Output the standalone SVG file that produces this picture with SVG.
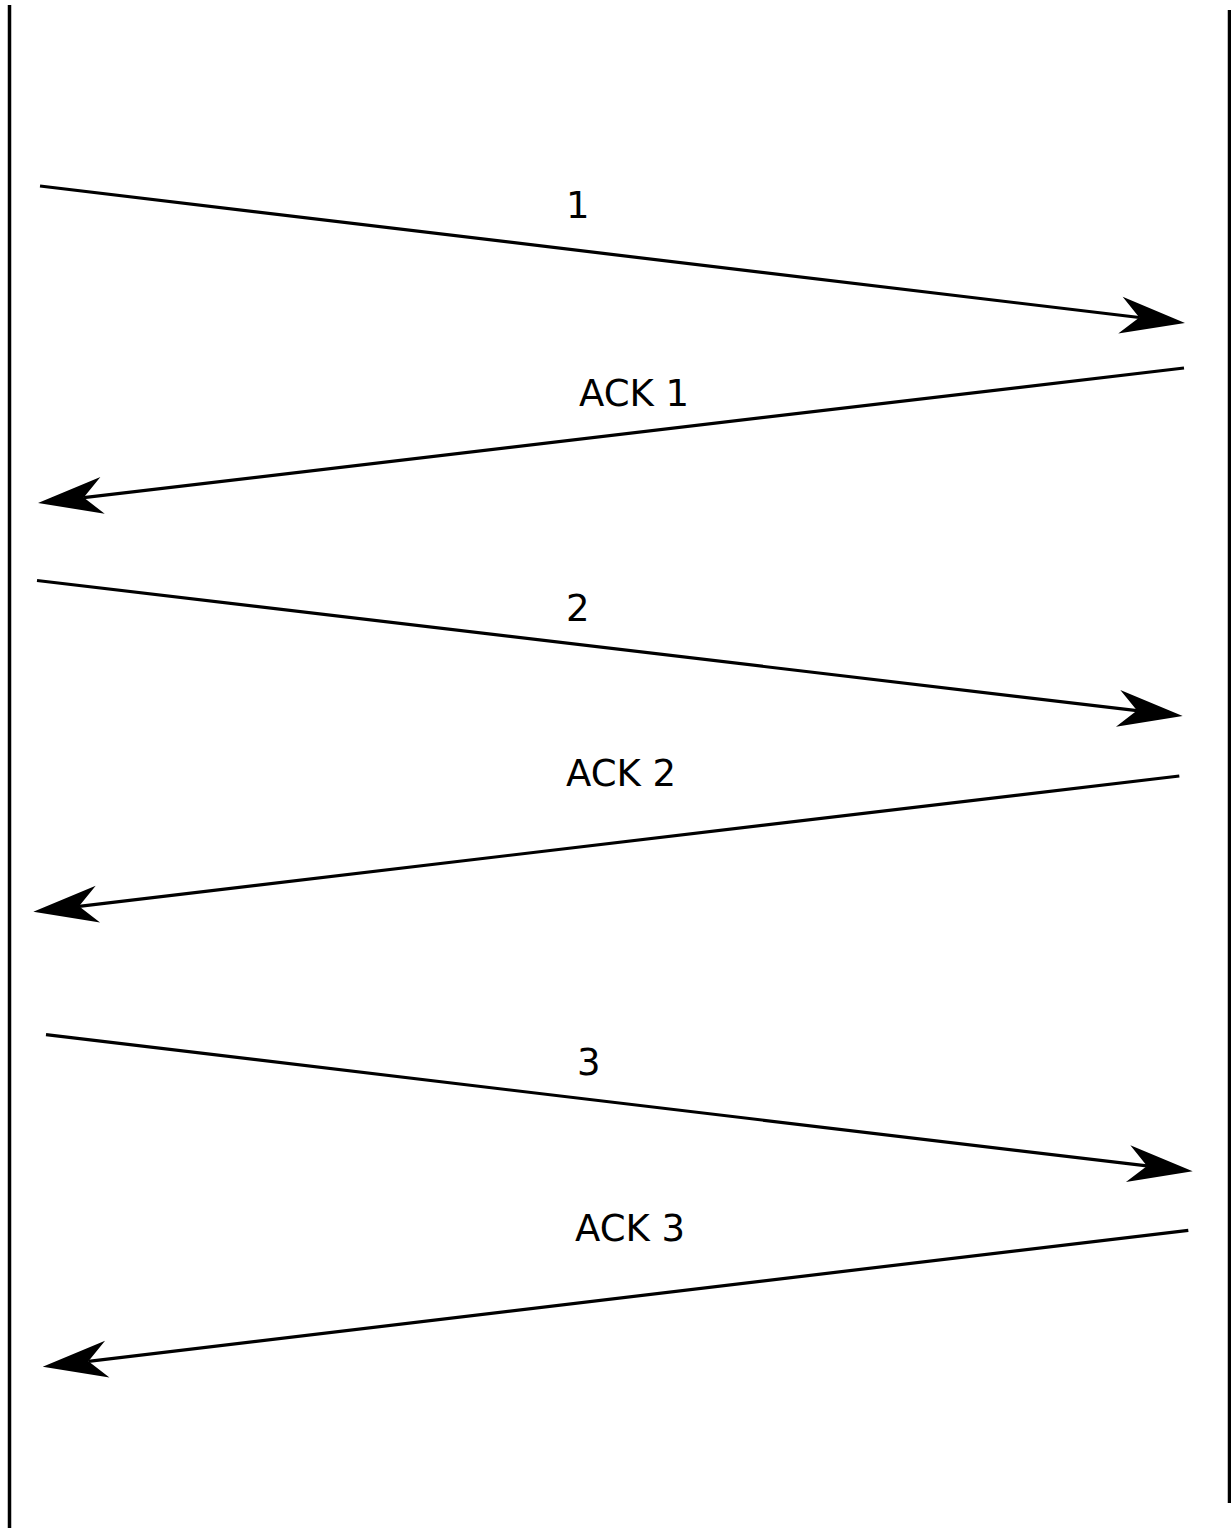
<svg xmlns="http://www.w3.org/2000/svg" width="1231" height="1528" viewBox="0 0 1231 1528">
<style>
.life{stroke:#000;stroke-width:3.5;fill:none}
.msg{stroke:#000;stroke-width:3.2;fill:none;marker-end:url(#head)}
.lbl{font-family:"DejaVu Sans",sans-serif;font-size:37px;fill:#000}
</style>
<defs>
<marker id="head" markerUnits="userSpaceOnUse" orient="auto" refX="0" refY="0" markerWidth="1" markerHeight="1" overflow="visible">
<path d="M46,0 L-19,-18.5 L0,0 L-19,18.5 Z" fill="#000"/>
</marker>
</defs>
<rect width="1231" height="1528" fill="#fff"/>
<g id="lifeline-left"><line class="life" x1="9.5" y1="5" x2="9.5" y2="1528"/></g>
<g id="lifeline-right"><line class="life" x1="1229.5" y1="10" x2="1229.5" y2="1503"/></g>
<g id="connectors">
<line class="msg" x1="40" y1="186" x2="1139.3" y2="317.5"/>
<line class="msg" x1="1184" y1="368" x2="83.7" y2="497.6"/>
<line class="msg" x1="37" y1="580.5" x2="1137" y2="710.6"/>
<line class="msg" x1="1179.3" y1="776" x2="79" y2="906.3"/>
<line class="msg" x1="46" y1="1034.7" x2="1147" y2="1165.9"/>
<line class="msg" x1="1188.3" y1="1230.3" x2="88.4" y2="1361.3"/>
</g>
<g id="labels">
<text class="lbl" x="566" y="217.5">1</text>
<text class="lbl" x="579" y="405.5">ACK 1</text>
<text class="lbl" x="566" y="621">2</text>
<text class="lbl" x="566" y="786">ACK 2</text>
<text class="lbl" x="577" y="1075">3</text>
<text class="lbl" x="575" y="1241">ACK 3</text>
</g>
</svg>
